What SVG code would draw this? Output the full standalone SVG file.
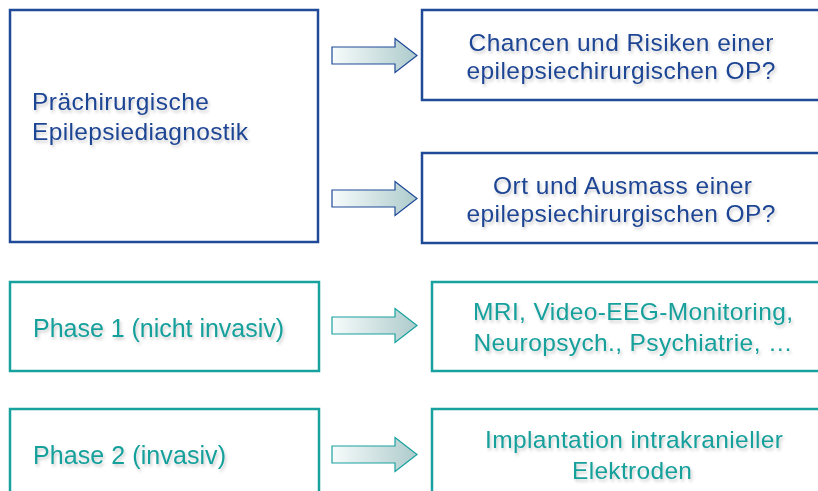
<svg xmlns="http://www.w3.org/2000/svg" xmlns:xlink="http://www.w3.org/1999/xlink" width="818" height="491" viewBox="0 0 818 491">
<style>
  .bbox { fill: #ffffff; stroke: #1f4a98; stroke-width: 2.5; }
  .tbox { fill: #ffffff; stroke: #18a29f; stroke-width: 2.5; }
  .btxt { font-family: "Liberation Sans", Arial, Helvetica, sans-serif; font-size: 24.5px; fill: #1f4594; filter: url(#shadow); }
  .ttxt { font-family: "Liberation Sans", Arial, Helvetica, sans-serif; font-size: 24.5px; fill: #17a09c; filter: url(#shadow); }
  .ph { font-size: 25px; }
  .barrow { fill: url(#grad); stroke: #1f4a98; stroke-width: 1.2; }
  .tarrow { fill: url(#grad); stroke: #18a29f; stroke-width: 1.2; }
</style>
<defs>
  <linearGradient id="grad" x1="0" y1="0" x2="1" y2="0">
    <stop offset="0" stop-color="#f7fbfb"/>
    <stop offset="1" stop-color="#aecbcc"/>
  </linearGradient>
  <filter id="shadow" x="-10%" y="-30%" width="120%" height="170%">
    <feDropShadow dx="1.5" dy="2.5" stdDeviation="1.8" flood-color="#000000" flood-opacity="0.2"/>
  </filter>
  <path id="arrow" d="M0,-8.5 H63 V-17 L85,0 L63,17 V8.5 H0 Z"/>
</defs>

<g id="connectors">
  <use xlink:href="#arrow" class="barrow" transform="translate(332,55.5)"/>
  <use xlink:href="#arrow" class="barrow" transform="translate(332,198.5)"/>
  <use xlink:href="#arrow" class="tarrow" transform="translate(332,325.5)"/>
  <use xlink:href="#arrow" class="tarrow" transform="translate(332,454.5)"/>
</g>

<g id="praechirurgisch">
  <rect class="bbox" x="10" y="10" width="308" height="232"/>
  <text class="btxt" x="32" y="110" textLength="177" lengthAdjust="spacing">Prächirurgische</text>
  <text class="btxt" x="32" y="139.5" textLength="216" lengthAdjust="spacing">Epilepsiediagnostik</text>
</g>

<g id="chancen">
  <rect class="bbox" x="422" y="10" width="420" height="90"/>
  <text class="btxt" x="621" y="51" text-anchor="middle" textLength="305" lengthAdjust="spacing">Chancen und Risiken einer</text>
  <text class="btxt" x="621" y="78.5" text-anchor="middle" textLength="309" lengthAdjust="spacing">epilepsiechirurgischen OP?</text>
</g>

<g id="ort">
  <rect class="bbox" x="422" y="153" width="420" height="90"/>
  <text class="btxt" x="622.5" y="193.5" text-anchor="middle" textLength="259" lengthAdjust="spacing">Ort und Ausmass einer</text>
  <text class="btxt" x="621" y="222" text-anchor="middle" textLength="309" lengthAdjust="spacing">epilepsiechirurgischen OP?</text>
</g>

<g id="phase1">
  <rect class="tbox" x="10" y="282" width="309" height="89"/>
  <text class="ttxt ph" x="33" y="336.5" textLength="251" lengthAdjust="spacing">Phase 1 (nicht invasiv)</text>
</g>

<g id="mri">
  <rect class="tbox" x="432" y="282" width="420" height="89"/>
  <text class="ttxt" x="633" y="320" text-anchor="middle" textLength="320" lengthAdjust="spacing">MRI, Video-EEG-Monitoring,</text>
  <text class="ttxt" x="633" y="351" text-anchor="middle" textLength="319" lengthAdjust="spacing">Neuropsych., Psychiatrie, …</text>
</g>

<g id="phase2">
  <rect class="tbox" x="10" y="409" width="309" height="120"/>
  <text class="ttxt ph" x="33" y="463.5" textLength="193" lengthAdjust="spacing">Phase 2 (invasiv)</text>
</g>

<g id="implantation">
  <rect class="tbox" x="432" y="409" width="420" height="120"/>
  <text class="ttxt" x="634" y="448" text-anchor="middle" textLength="298" lengthAdjust="spacing">Implantation intrakranieller</text>
  <text class="ttxt" x="632" y="478.5" text-anchor="middle" textLength="120" lengthAdjust="spacing">Elektroden</text>
</g>
</svg>
